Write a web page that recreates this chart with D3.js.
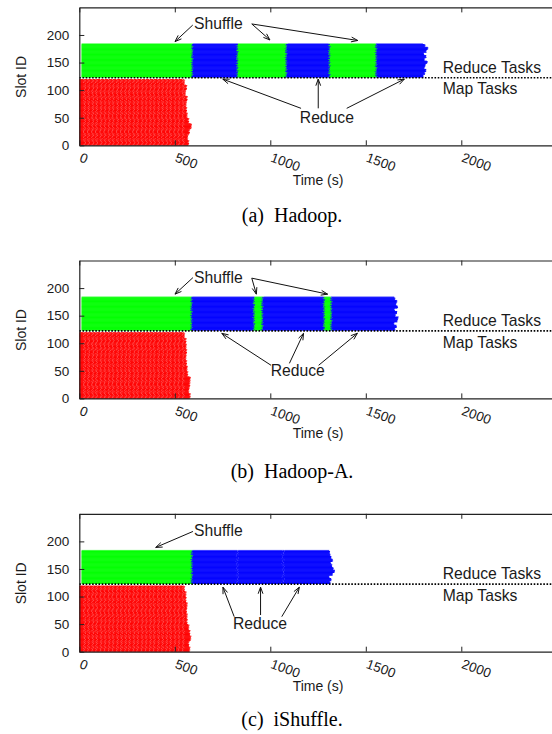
<!DOCTYPE html>
<html>
<head>
<meta charset="utf-8">
<script src="https://cdn.jsdelivr.net/npm/d3@7"></script>
<style>
  body { margin: 0; background: #fff; }
  svg { display: block; }
  text { font-family: "Liberation Sans", Arial, sans-serif; fill: #1a1a1a; }
  .caption { font-family: "Liberation Serif", "Times New Roman", serif; font-size: 20px; fill: #000; white-space: pre; }
</style>
</head>
<body>
<svg id="chart" width="552" height="734"></svg>
<script>
const captions = ['(a)  Hadoop.', '(b)  Hadoop-A.', '(c)  iShuffle.'];
const xTicks = [0, 500, 1000, 1500, 2000];
const yTicks = [0, 50, 100, 150, 200];

// finishing time of the last map task, per block of 10 map slots (bottom to top)
const mapEndHadoop = [570, 565, 574, 584, 570, 562, 559, 557, 562, 553, 559, 548];
const mapEndHadoopA = [578, 571, 576, 578, 565, 562, 559, 556, 559, 557, 556, 548];
const mapEndIShuffle = [576, 571, 581, 576, 571, 562, 562, 559, 562, 556, 556, 548];

// start times of the map task waves and the per-slot skew of those waves (s)
const mapWaves = [0, 22, 43, 65, 85, 108, 129, 151, 171, 194, 215, 237, 257, 280, 300, 323, 344, 366, 386, 409, 430, 452, 472, 495, 516, 538];
const mapSkew = [0, 6, 2, 9, 4, 11, 1, 7, 10, 3, 8, 1, 12, 5, 0, 9, 3, 6, 10, 2, 7, 4, 11, 0, 5];
const mapEdge = [0, 3, -2, 5, 1, -3, 4, 0, 6, -1];

// reduce slots: phase, start, end (null = runs to the last reduce)
const phasesHadoop = [['shuffle', 12, 590], ['reduce', 590, 827], ['shuffle', 827, 1082], ['reduce', 1082, 1309], ['shuffle', 1309, 1553], ['reduce', 1553, null]];
const phasesHadoopA = [['shuffle', 12, 586], ['reduce', 586, 914], ['shuffle', 914, 957], ['reduce', 957, 1281], ['shuffle', 1281, 1318], ['reduce', 1318, null]];
const phasesIShuffle = [['shuffle', 12, 588], ['reduce', 588, 826], ['reduce', 828, 1066], ['reduce', 1068, null]];

// finishing time of the last reduce, per block of 5 reduce slots (bottom to top)
const reduceEndHadoop = [1800, 1808, 1815, 1806, 1812, 1822, 1806, 1815, 1803, 1816, 1824, 1810, 1798];
const reduceEndHadoopA = [1652, 1660, 1648, 1664, 1669, 1655, 1662, 1650, 1666, 1658, 1662, 1652, 1648];
const reduceEndIShuffle = [1312, 1318, 1308, 1325, 1336, 1330, 1322, 1316, 1326, 1318, 1312, 1310, 1308];

// raggedness of the phase edges (s), per reduce slot
const edgeJitter = [3, -4, 6, -2, 8, 0, -6, 4, -3, 7, -5, 2, -1, 5, -7, 1, 4];

const mapSlots = 120;
const reduceSlots = [124, 184];
const dividerSlot = 122.5;

// annotations, in data units: [fromTime, fromSlot, toTime, toSlot]
const shuffleArrowsHadoop = [[594, 218, 501, 188], [903, 220, 998, 191], [903, 220, 1458, 190]];
const reduceArrowsHadoop = [[1161, 67, 751, 120], [1251, 67, 1251, 120], [1400, 67, 1702, 120]];
const shuffleArrowsHadoopA = [[595, 219, 501, 189], [903, 218, 927, 189], [903, 218, 1300, 189]];
const reduceArrowsHadoopA = [[1004, 60, 746, 118], [1100, 63.5, 1174, 118], [1253, 60, 1456, 118]];
const shuffleArrowsIShuffle = [[595, 218, 400, 189]];
const reduceArrowsIShuffle = [[811, 63.5, 752, 117], [949, 66.5, 949, 117], [1060, 63.5, 1152, 117]];
const shuffleLabelAt = [601, 210];
const reduceLabelAt = [[1296, 40], [1144, 40.4], [946, 40.6]];
const taskLabelsAt = [[1903, 131.3, 'Reduce Tasks'], [1903, 92.1, 'Map Tasks']];

const panels = [
  { caption: captions[0], mapEnd: mapEndHadoop, phases: phasesHadoop, reduceEnd: reduceEndHadoop, shuffleArrows: shuffleArrowsHadoop, reduceArrows: reduceArrowsHadoop, reduceLabel: reduceLabelAt[0] },
  { caption: captions[1], mapEnd: mapEndHadoopA, phases: phasesHadoopA, reduceEnd: reduceEndHadoopA, shuffleArrows: shuffleArrowsHadoopA, reduceArrows: reduceArrowsHadoopA, reduceLabel: reduceLabelAt[1] },
  { caption: captions[2], mapEnd: mapEndIShuffle, phases: phasesIShuffle, reduceEnd: reduceEndIShuffle, shuffleArrows: shuffleArrowsIShuffle, reduceArrows: reduceArrowsIShuffle, reduceLabel: reduceLabelAt[2] }
];

const panelTops = [7.4, 260.5, 513.8];
const captionYs = [222, 478, 726];
const plotH = 137.9;
const phaseColor = { shuffle: '#00ff00', reduce: '#0000ff' };

const svg = d3.select('#chart');
const x = d3.scaleLinear().domain([0, 2500]).range([79.3, 556.8]);
const y = d3.scaleLinear().domain([0, 250]).range([plotH, 0]);
const step = y(0) - y(1);

panels.forEach((panel, p) => {
  const g = svg.append('g').attr('transform', `translate(0,${panelTops[p]})`);

  // map tasks
  const mapG = g.append('g');
  d3.range(mapSlots).forEach(s => {
    const end = panel.mapEnd[Math.floor(s / 10)] + mapEdge[s % mapEdge.length];
    mapG.append('rect')
      .attr('x', x(0))
      .attr('y', y(s + 1))
      .attr('width', x(end) - x(0))
      .attr('height', step + 0.4)
      .attr('fill', '#ff0000');
    const skew = mapSkew[s % mapSkew.length];
    mapWaves.slice(1).forEach(w => {
      if (w + skew > end - 4) return;
      mapG.append('rect')
        .attr('x', x(w + skew) - 0.4)
        .attr('y', y(s + 1))
        .attr('width', 0.8)
        .attr('height', step)
        .attr('fill', '#fff');
    });
  });

  // reduce tasks
  const redG = g.append('g');
  d3.range(reduceSlots[0], reduceSlots[1] + 1).forEach((s, r) => {
    const jit = k => edgeJitter[(r + 4 * k) % edgeJitter.length];
    panel.phases.forEach(([phase, start, end], i) => {
      const t0 = i === 0 ? start : start + jit(i);
      const t1 = end === null
        ? panel.reduceEnd[Math.floor(r / 5)] + jit(9) * 0.4
        : end + jit(i + 1);
      redG.append('rect')
        .attr('x', x(t0))
        .attr('y', y(s + 0.5))
        .attr('width', Math.max(0, x(t1) - x(t0)))
        .attr('height', step + (s < reduceSlots[1] ? 0.4 : 0))
        .attr('fill', phaseColor[phase]);
    });
  });

  // divider between reduce and map slots
  g.append('line')
    .attr('x1', x(0)).attr('x2', x(2500))
    .attr('y1', y(dividerSlot)).attr('y2', y(dividerSlot))
    .attr('stroke', '#000')
    .attr('stroke-width', 1.6)
    .attr('stroke-dasharray', '1.6,1.6');

  // axes
  const bottom = g.append('g')
    .attr('transform', `translate(0,${plotH})`)
    .style('color', '#222')
    .call(d3.axisBottom(x).tickValues(xTicks).tickSizeInner(-5).tickSizeOuter(0).tickFormat(d3.format('d')));
  bottom.selectAll('text')
    .attr('y', 0).attr('dy', 0)
    .attr('text-anchor', 'start')
    .attr('transform', 'translate(-1,16) rotate(20)')
    .style('font-size', '13.5px')
    .style('font-family', '"Liberation Sans", Arial, sans-serif')
    .attr('fill', '#1a1a1a');

  g.append('g')
    .style('color', '#222')
    .call(d3.axisTop(x).tickValues(xTicks).tickSizeInner(-5).tickSizeOuter(0).tickFormat(''));

  const left = g.append('g')
    .attr('transform', `translate(${x(0)},0)`)
    .style('color', '#222')
    .call(d3.axisLeft(y).tickValues(yTicks).tickSizeInner(-5).tickSizeOuter(0).tickPadding(10));
  left.selectAll('text')
    .style('font-size', '13.5px')
    .style('font-family', '"Liberation Sans", Arial, sans-serif')
    .attr('fill', '#1a1a1a');
  g.selectAll('.domain').attr('stroke-width', 1.2);

  g.append('line')
    .attr('x1', x(2500)).attr('x2', x(2500))
    .attr('y1', 0).attr('y2', plotH)
    .attr('stroke', '#222').attr('stroke-width', 1.2);

  // axis titles
  g.append('text')
    .attr('x', (x(0) + x(2500)) / 2)
    .attr('y', plotH + 39.7)
    .attr('text-anchor', 'middle')
    .style('font-size', '14px')
    .text('Time (s)');
  g.append('text')
    .attr('transform', `translate(26,${plotH / 2 + 0.6}) rotate(-90)`)
    .attr('text-anchor', 'middle')
    .style('font-size', '14px')
    .text('Slot ID');

  // annotations
  const drawArrow = ([t0, s0, t1, s1]) => {
    const x0 = x(t0), y0 = y(s0), x1 = x(t1), y1 = y(s1);
    const a = Math.atan2(y1 - y0, x1 - x0);
    const len = 7, spread = 20 * Math.PI / 180;
    const h1 = [x1 - len * Math.cos(a - spread), y1 - len * Math.sin(a - spread)];
    const h2 = [x1 - len * Math.cos(a + spread), y1 - len * Math.sin(a + spread)];
    g.append('path')
      .attr('d', `M${x0},${y0}L${x1},${y1}M${h1[0]},${h1[1]}L${x1},${y1}L${h2[0]},${h2[1]}`)
      .attr('fill', 'none')
      .attr('stroke', '#111')
      .attr('stroke-width', 1);
  };
  panel.shuffleArrows.forEach(drawArrow);
  panel.reduceArrows.forEach(drawArrow);

  g.append('text')
    .attr('x', x(shuffleLabelAt[0])).attr('y', y(shuffleLabelAt[1]))
    .style('font-size', '15.7px')
    .text('Shuffle');
  g.append('text')
    .attr('x', x(panel.reduceLabel[0])).attr('y', y(panel.reduceLabel[1]))
    .attr('text-anchor', 'middle')
    .style('font-size', '15.7px')
    .text('Reduce');
  taskLabelsAt.forEach(([t, s, label]) => {
    g.append('text')
      .attr('x', x(t)).attr('y', y(s))
      .style('font-size', '15.7px')
      .text(label);
  });

  svg.append('text')
    .attr('class', 'caption')
    .attr('x', 292)
    .attr('y', captionYs[p])
    .attr('text-anchor', 'middle')
    .text(panel.caption);
});
</script>
</body>
</html>
